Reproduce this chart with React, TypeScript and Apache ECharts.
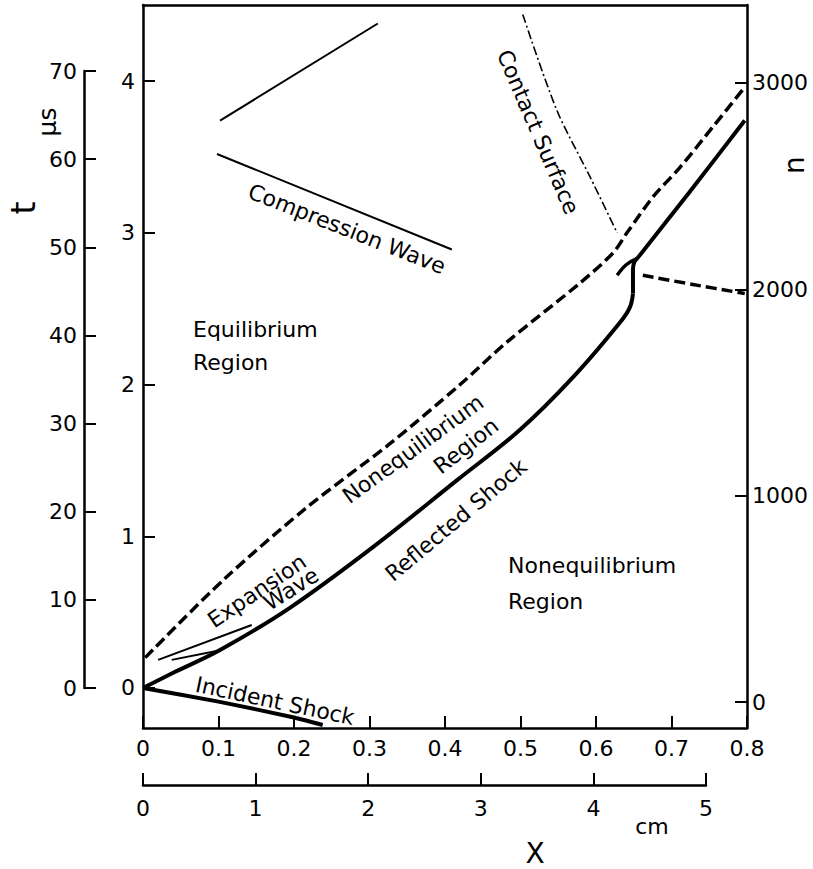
import React, { useEffect, useRef } from "react";
import * as echarts from "echarts";

const W = 813;
const H = 869;
const FONT = '"DejaVu Sans", sans-serif';

// ---- tick values ----
const innerTimeTicks = [0, 1, 2, 3, 4];
const nTicks = [0, 1000, 2000, 3000];
const tMicroTicks = { min: 0, max: 70, interval: 10 };
const xTicks = { min: 0, max: 0.8, interval: 0.1 };
const cmTicks = { min: 0, max: 5, interval: 1 };

// ---- curves (x in main units, y in inner time units) ----
const reflectedShockLowX = [0, 0.04, 0.102, 0.195, 0.305, 0.416, 0.499, 0.57, 0.632, 0.645, 0.649];
const reflectedShockLowY = [0, 0.1, 0.25, 0.53, 0.93, 1.37, 1.7, 2.05, 2.41, 2.51, 2.6];
const reflectedShockHighX = [0.649, 0.649, 0.651, 0.656, 0.724, 0.797];
const reflectedShockHighY = [2.6, 2.76, 2.81, 2.84, 3.27, 3.74];

const incidentShockX = [0, 0.1, 0.2, 0.238];
const incidentShockY = [0, -0.09, -0.195, -0.244];

const equilibriumEdgeX = [0.003, 0.106, 0.217, 0.327, 0.42, 0.482, 0.579, 0.623, 0.641, 0.676, 0.711, 0.755, 0.797];
const equilibriumEdgeY = [0.2, 0.71, 1.19, 1.61, 2.0, 2.28, 2.67, 2.87, 3.0, 3.24, 3.43, 3.7, 3.96];

const lowerDashX = [0.662, 0.728, 0.797];
const lowerDashY = [2.72, 2.66, 2.6];

const contactX = [0.503, 0.548, 0.592, 0.628];
const contactY = [4.44, 3.81, 3.37, 3.0];

const hookX = [0.628, 0.64, 0.654];
const hookY = [2.72, 2.79, 2.83];

const compressionAX = [0.102, 0.311];
const compressionAY = [3.74, 4.38];
const compressionBX = [0.098, 0.409];
const compressionBY = [3.52, 2.89];

const expansionAX = [0.02, 0.144];
const expansionAY = [0.185, 0.415];
const expansionBX = [0.038, 0.104];
const expansionBY = [0.185, 0.25];

const zip = (xs: number[], ys: number[]) => xs.map((x, i) => [x, ys[i]]);

// ---- annotations ----
const annotations = [
  { text: "Equilibrium", x: 193, y: 329, rot: 0, align: "left" },
  { text: "Region", x: 193, y: 362, rot: 0, align: "left" },
  { text: "Compression Wave", x: 347, y: 229, rot: -21.5, align: "center" },
  { text: "Contact Surface", x: 538, y: 132, rot: -66.8, align: "center" },
  { text: "Nonequilibrium", x: 413, y: 449, rot: 36, align: "center" },
  { text: "Region", x: 466, y: 446, rot: 38, align: "center" },
  { text: "Reflected Shock", x: 456, y: 520, rot: 40, align: "center" },
  { text: "Expansion", x: 257, y: 591, rot: 34, align: "center" },
  { text: "Wave", x: 291, y: 589, rot: 32, align: "center" },
  { text: "Incident Shock", x: 275, y: 701, rot: -12, align: "center" },
  { text: "Nonequilibrium", x: 508, y: 565, rot: 0, align: "left" },
  { text: "Region", x: 508, y: 601, rot: 0, align: "left" },
];

const axisTitles = [
  { text: "t", x: 23, y: 208, rot: 90, size: 33 },
  { text: "μs", x: 47, y: 122, rot: 90, size: 25 },
  { text: "n", x: 794, y: 165, rot: 90, size: 28 },
  { text: "X", x: 535, y: 853, rot: 0, size: 28 },
  { text: "cm", x: 652, y: 826, rot: 0, size: 22 },
];

const black = "#000";

function textEl(t: { text: string; x: number; y: number; rot: number; align?: string; size?: number }) {
  const align = t.align || "center";
  return {
    type: "text",
    x: t.x,
    y: t.y,
    rotation: (t.rot * Math.PI) / 180,
    style: {
      text: t.text,
      font: `${t.size || 22}px ${FONT}`,
      fill: black,
      textAlign: align,
      align: align,
      textVerticalAlign: "middle",
      verticalAlign: "middle",
    },
  };
}

export default function App() {
  const ref = useRef<HTMLDivElement>(null);

  useEffect(() => {
    if (!ref.current) return;
    const chart = echarts.init(ref.current, undefined, { renderer: "svg" });

    const axisLine = { show: true, onZero: false, lineStyle: { color: black, width: 2.5 } };
    const tick = { show: true, inside: true, length: 12, lineStyle: { color: black, width: 2 } };
    const label = { color: black, fontFamily: FONT, fontSize: 22 };

    const lineSeries = (data: number[][], width: number, type: any, smooth: number | boolean = false) => ({
      type: "line",
      xAxisIndex: 0,
      yAxisIndex: 0,
      data,
      symbol: "none",
      showSymbol: false,
      smooth,
      silent: true,
      lineStyle: { color: black, width, type, cap: "butt", join: "round" },
    });

    const option: any = {
      animation: false,
      backgroundColor: "#fff",
      grid: [
        { left: 143, top: 5, width: 604, height: 723, containLabel: false },
        { left: 84, top: 71, width: 10, height: 617, containLabel: false },
        { left: 143, top: 784, width: 563, height: 1, containLabel: false },
      ],
      xAxis: [
        {
          gridIndex: 0,
          type: "value",
          position: "bottom",
          min: xTicks.min,
          max: xTicks.max,
          interval: xTicks.interval,
          axisLine,
          axisTick: tick,
          axisLabel: { ...label, margin: 9, formatter: (v: number) => (v === 0 ? "0" : v.toFixed(1)) },
          splitLine: { show: false },
        },
        {
          gridIndex: 0,
          type: "value",
          position: "top",
          min: xTicks.min,
          max: xTicks.max,
          axisLine,
          axisTick: { show: false },
          axisLabel: { show: false },
          splitLine: { show: false },
        },
        { gridIndex: 1, type: "value", show: false, min: 0, max: 1 },
        {
          gridIndex: 2,
          type: "value",
          position: "bottom",
          min: cmTicks.min,
          max: cmTicks.max,
          interval: cmTicks.interval,
          axisLine,
          axisTick: tick,
          axisLabel: { ...label, margin: 12 },
          splitLine: { show: false },
        },
      ],
      yAxis: [
        {
          gridIndex: 0,
          type: "value",
          position: "left",
          min: -0.264,
          max: 4.502,
          axisLine,
          axisTick: { ...tick, customValues: innerTimeTicks },
          axisLabel: { ...label, margin: 8, customValues: innerTimeTicks, formatter: (v: number) => String(v) },
          splitLine: { show: false },
        },
        {
          gridIndex: 0,
          type: "value",
          position: "right",
          min: -126,
          max: 3378,
          axisLine,
          axisTick: { ...tick, customValues: nTicks },
          axisLabel: { ...label, margin: 5, customValues: nTicks, formatter: (v: number) => String(v) },
          splitLine: { show: false },
        },
        {
          gridIndex: 1,
          type: "value",
          position: "left",
          min: tMicroTicks.min,
          max: tMicroTicks.max,
          interval: tMicroTicks.interval,
          axisLine,
          axisTick: tick,
          axisLabel: { ...label, margin: 7 },
          splitLine: { show: false },
        },
        { gridIndex: 2, type: "value", show: false, min: 0, max: 1 },
      ],
      series: [
        lineSeries(zip(reflectedShockLowX, reflectedShockLowY), 4, "solid", 0.35),
        lineSeries(zip(reflectedShockHighX, reflectedShockHighY), 4, "solid", 0.2),
        lineSeries(zip(incidentShockX, incidentShockY), 4, "solid", 0.2),
        lineSeries(zip(equilibriumEdgeX, equilibriumEdgeY), 3.5, [11, 5], 0.3),
        lineSeries(zip(lowerDashX, lowerDashY), 3.5, [11, 5], 0.3),
        lineSeries(zip(contactX, contactY), 1.6, [9, 3, 2, 3], 0.3),
        lineSeries(zip(hookX, hookY), 3.5, "solid", 0.4),
        lineSeries(zip(compressionAX, compressionAY), 2, "solid"),
        lineSeries(zip(compressionBX, compressionBY), 2, "solid"),
        lineSeries(zip(expansionAX, expansionAY), 2, "solid"),
        lineSeries(zip(expansionBX, expansionBY), 2, "solid"),
      ],
      graphic: [...annotations.map((a) => textEl(a)), ...axisTitles.map((a) => textEl({ ...a, align: "center" }))],
    };

    chart.setOption(option);
    return () => chart.dispose();
  }, []);

  return (
    <div
      ref={ref}
      style={{ position: "fixed", left: 0, top: 0, width: W, height: H, background: "#fff" }}
    />
  );
}
